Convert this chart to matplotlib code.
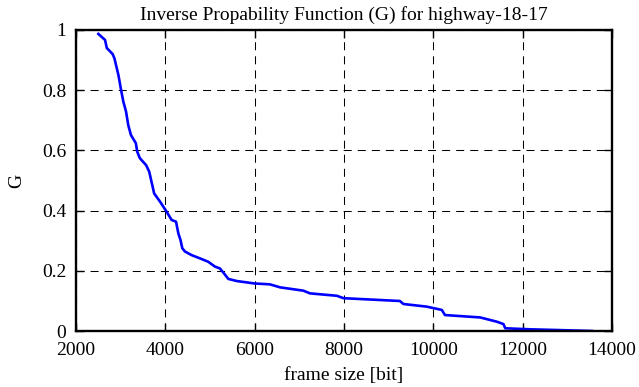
import matplotlib
matplotlib.use('Agg')
from matplotlib import pyplot as plt
import numpy as np

# values (frame size in bit, G)
frame_size = [2500, 2650, 2690, 2820, 2860, 2950, 3010, 3060, 3120, 3170,
              3230, 3340, 3370, 3430, 3570, 3640, 3690, 3750, 3880, 4030,
              4140, 4240, 4290, 4340, 4380, 4440, 4590, 4780, 4960, 5110,
              5220, 5310, 5410, 5600, 5990, 6340, 6570, 7090, 7240, 7840,
              7990, 9250, 9330, 9850, 10190, 10260, 11050, 11420, 11570, 11610,
              12170, 12840, 13550]
G = [0.987, 0.967, 0.94, 0.92, 0.906, 0.85, 0.80, 0.762, 0.729, 0.684,
     0.651, 0.624, 0.596, 0.574, 0.551, 0.529, 0.496, 0.457, 0.43, 0.396,
     0.369, 0.363, 0.325, 0.302, 0.275, 0.264, 0.252, 0.241, 0.23, 0.214,
     0.208, 0.192, 0.173, 0.166, 0.158, 0.155, 0.145, 0.134, 0.125, 0.117,
     0.109, 0.0997, 0.0897, 0.081, 0.07, 0.053, 0.045, 0.031, 0.023, 0.009,
     0.0056, 0.003, 0.0]

x_ticks = [2000, 4000, 6000, 8000, 10000, 12000, 14000]
y_ticks = [0, 0.2, 0.4, 0.6, 0.8, 1]
y_labels = ['0', '0.2', '0.4', '0.6', '0.8', '1']

plt.rcParams['font.family'] = ['Liberation Serif', 'DejaVu Serif']
plt.rcParams['font.size'] = 14

fig = plt.figure(figsize=(6.39, 3.87), dpi=100)
ax = fig.add_axes([76 / 639, 1 - 331 / 387, 536 / 639, 301 / 387])

ax.plot(frame_size, G, color='#0000ff', lw=1.9)

ax.set_xlim(2000, 14000)
ax.set_ylim(0, 1)
ax.set_xticks(x_ticks)
ax.set_yticks(y_ticks)
ax.set_yticklabels(y_labels)
ax.grid(True, color='black', linestyle=(0, (7.7, 5.8)), linewidth=0.75)
ax.tick_params(direction='in', length=6, width=1.0, top=True, right=True,
               labelsize=14)
ax.tick_params(axis='x', pad=8)
ax.tick_params(axis='y', pad=7)
for s in ax.spines.values():
    s.set_linewidth(1.7)

ax.set_title('Inverse Propability Function (G) for highway-18-17', fontsize=14, pad=7)
ax.set_xlabel('frame size [bit]', fontsize=14, labelpad=6)
ax.set_ylabel('G', fontsize=14, labelpad=12)

fig.savefig('out.png', dpi=100)
plt.close()
